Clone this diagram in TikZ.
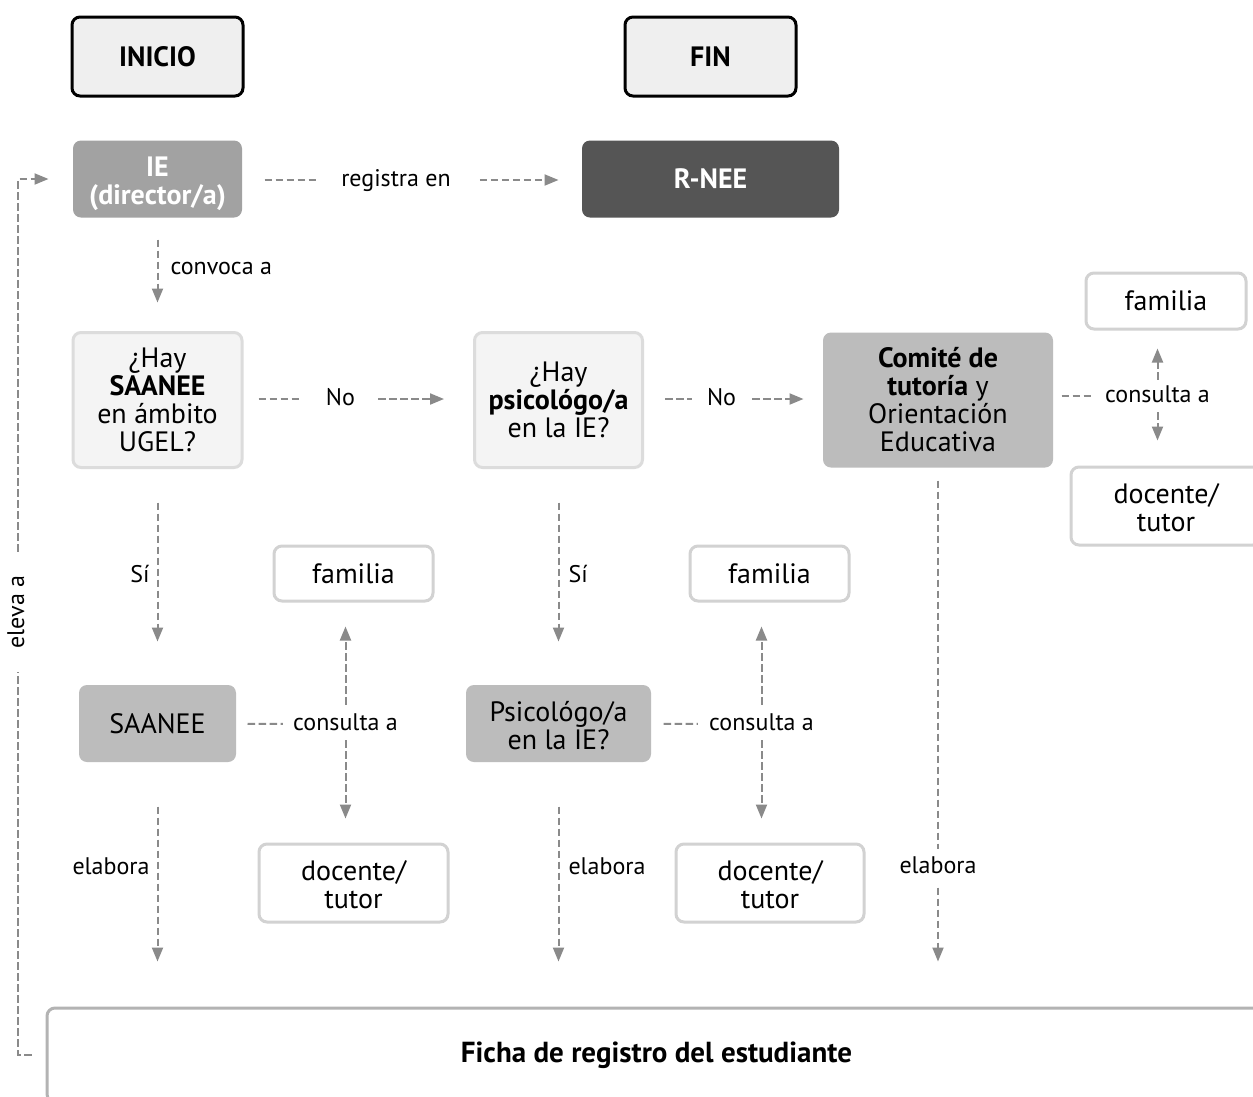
\documentclass[tikz,border=0pt]{standalone}
\usepackage{fontspec}
\setmainfont{PT Sans}
\usetikzlibrary{arrows.meta}
\definecolor{lc}{HTML}{8A8A8A}
\definecolor{ieg}{HTML}{A2A2A2}
\definecolor{dkg}{HTML}{555555}
\definecolor{mdg}{HTML}{BCBCBC}
\definecolor{qf}{HTML}{F4F4F4}
\definecolor{qd}{HTML}{DCDCDC}
\definecolor{wd}{HTML}{D2D2D2}
\definecolor{fd}{HTML}{B3B3B3}
\definecolor{inif}{HTML}{EFEFEF}
\newcommand\bxfont{\fontsize{28}{28}\selectfont}
\newcommand\lbfont{\fontsize{24}{26}\selectfont}
\newcommand\twol[3]{\raisebox{-#1pt}[\height][\depth]{\parbox{150pt}{\centering #2\\#3}}}
\tikzset{
  bx/.style={rounded corners=8pt, inner sep=0pt, align=center, font=\bxfont, line width=3pt, text=black},
  startbox/.style={bx, fill=inif, draw=black, font=\bxfont\bfseries},
  darkbox/.style={bx, draw=none, text=white, font=\bxfont\bfseries},
  qbox/.style={bx, fill=qf, draw=qd},
  greybox/.style={bx, fill=mdg, draw=none},
  whitebox/.style={bx, fill=white, draw=wd},
  lbl/.style={font=\lbfont, text=black, inner sep=0pt, text height=17pt, text depth=5pt},
  dl/.style={draw=lc, line width=2pt, dash pattern=on 7.5pt off 3.5pt},
  arr/.style={-{Triangle[length=14pt,width=11pt,fill=lc]}},
}
\begin{document}
\begin{tikzpicture}[x=1pt,y=-1pt]
\useasboundingbox (0,0) rectangle (1253,1096);
\clip (0,0) rectangle (1253,1096);
\fill[white] (0,0) rectangle (1253,1096);

% top row
\node[startbox, minimum width=171pt, minimum height=79pt] (ini) at (157.5,56.5) {INICIO};
\node[startbox, minimum width=171pt, minimum height=79pt] (fin) at (710.5,56.5) {FIN};
\node[darkbox, fill=ieg, minimum width=169pt, minimum height=77pt] (ie) at (157.5,179) {\twol{4.5}{IE}{(director/a)}};
\node[darkbox, fill=dkg, minimum width=257pt, minimum height=77pt] (rnee) at (710.5,179) {R-NEE};

% questions
\node[qbox, minimum width=169pt, minimum height=135pt] (q1) at (157.5,400) {¿Hay\\\textbf{SAANEE}\\en ámbito\\UGEL?};
\node[qbox, minimum width=168pt, minimum height=135pt] (q2) at (558.5,400) {¿Hay\\\textbf{psicológo/a}\\en la IE?};
\node[greybox, minimum width=230pt, minimum height=135pt] (com) at (938,400) {\textbf{Comité de}\\\textbf{tutoría} y\\Orientación\\Educativa};

% right consult
\node[whitebox, minimum width=160pt, minimum height=56pt] (fam3) at (1166,301) {familia};
\node[whitebox, minimum width=190pt, minimum height=78pt] (doc3) at (1166,506) {\twol{2}{docente/}{tutor}};
\node[lbl] (c3) at (1157.5,396) {consulta a};

% second level
\node[greybox, minimum width=157pt, minimum height=77pt] (saanee) at (157.5,723.5) {SAANEE};
\node[greybox, minimum width=185pt, minimum height=77pt] (psi) at (558.5,723.5) {\twol{2}{Psicológo/a}{en la IE?}};
\node[whitebox, minimum width=159pt, minimum height=55pt] (fam1) at (353.5,573.5) {familia};
\node[whitebox, minimum width=159pt, minimum height=55pt] (fam2) at (769.5,573.5) {familia};
\node[whitebox, minimum width=189pt, minimum height=78pt] (doc1) at (353.5,883) {\twol{2}{docente/}{tutor}};
\node[whitebox, minimum width=188pt, minimum height=78pt] (doc2) at (770,883) {\twol{2}{docente/}{tutor}};
\node[lbl] (c1) at (345.5,724) {consulta a};
\node[lbl] (c2) at (761.5,724) {consulta a};

% bottom
\node[bx, draw=fd, fill=white, minimum width=1222pt, minimum height=94pt, font=\fontsize{29}{30}\selectfont\bfseries] (ficha) at (658,1055) {Ficha de registro del estudiante\hspace*{3pt}};

% labels on horizontal connectors
\node[lbl] (reg) at (396,180) {registra en};
\node[lbl] (n1) at (340.5,399) {No};
\node[lbl] (n2) at (721.5,399) {No};

% connectors
\draw[dl, shorten <=21pt, shorten >=24pt] (ie.east |- reg.west) -- (reg.west);
\draw[dl, arr, shorten <=29pt, shorten >=22pt] (reg.east) -- (reg.east -| rnee.west);
\draw[dl, arr, shorten <=20.5pt, shorten >=28.5pt] (ie) -- node[lbl, right=12pt, pos=0.44]{convoca a} (q1);

\draw[dl, shorten <=15pt, shorten >=26pt] (q1.east |- n1.west) -- (n1.west);
\draw[dl, arr, shorten <=23pt, shorten >=29pt] (n1.east) -- (n1.east -| q2.west);
\draw[dl, shorten <=21pt, shorten >=15pt] (q2.east |- n2.west) -- (n2.west);
\draw[dl, arr, shorten <=16pt, shorten >=18pt] (n2.east) -- (n2.east -| com.west);

\draw[dl, shorten <=7pt, shorten >=11pt] (com.east |- c3.west) -- (c3.west);
\draw[dl, arr, shorten <=5pt, shorten >=18pt] (c3.north) -- (c3.north |- fam3.south);
\draw[dl, arr, shorten <=5pt, shorten >=25pt] (c3.south) -- (c3.south |- doc3.north);

\draw[dl, arr, shorten <=33.5pt, shorten >=42pt] (q1) -- node[lbl, left=7pt]{Sí} (saanee);
\draw[dl, arr, shorten <=33.5pt, shorten >=42pt] (q2) -- node[lbl, right=9pt]{Sí} (psi);

\draw[dl, shorten <=10pt, shorten >=10pt] (saanee) -- (c1);
\draw[dl, arr, shorten <=8pt, shorten >=24pt] (c1.north) -- (c1.north |- fam1.south);
\draw[dl, arr, shorten <=5pt, shorten >=24pt] (c1.south) -- (c1.south |- doc1.north);
\draw[dl, shorten <=11pt, shorten >=11pt] (psi) -- (c2);
\draw[dl, arr, shorten <=8pt, shorten >=24pt] (c2.north) -- (c2.north |- fam2.south);
\draw[dl, arr, shorten <=5pt, shorten >=24pt] (c2.south) -- (c2.south |- doc2.north);

\draw[dl, arr, shorten <=43pt, shorten >=45pt] (saanee.south) -- node[lbl, left=7pt, pos=0.43]{elabora} (saanee.south |- ficha.north);
\draw[dl, arr, shorten <=43pt, shorten >=45pt] (psi.south) -- node[lbl, right=9pt, pos=0.43]{elabora} (psi.south |- ficha.north);
\draw[dl, arr, shorten <=11.5pt, shorten >=45pt] (com.south) -- node[lbl, fill=white, inner ysep=7pt, pos=0.741]{elabora} (com.south |- ficha.north);

% eleva a loop
\coordinate (lb) at (18,1055);
\coordinate (lt) at (18,179);
\draw[dl, arr, shorten <=14pt, shorten >=23pt] (ficha.west) -- (lb) -- (lt) -- (ie.west);
\node[lbl, rotate=90, fill=white, inner xsep=24pt] (elev) at (18,612) {eleva a};
\end{tikzpicture}
\end{document}
